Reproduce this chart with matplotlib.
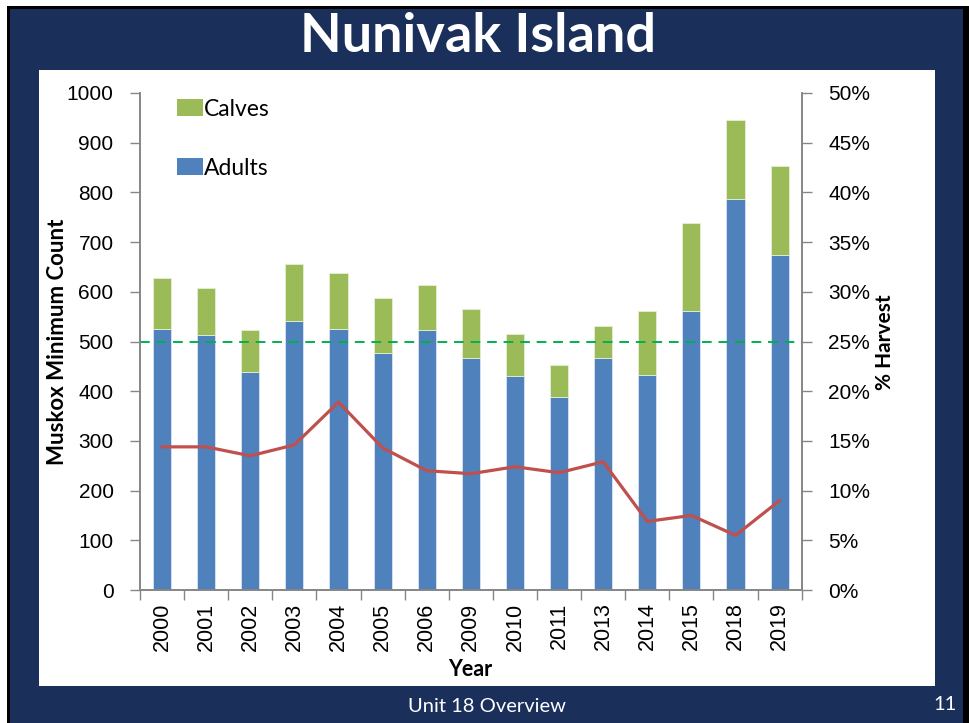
import matplotlib
matplotlib.use("Agg")
import matplotlib.pyplot as plt
import numpy as np
from matplotlib.patches import Rectangle, Patch
from matplotlib.ticker import FuncFormatter, FixedLocator

years = ["2000", "2001", "2002", "2003", "2004", "2005", "2006", "2009",
         "2010", "2011", "2013", "2014", "2015", "2018", "2019"]
totals = [627, 608, 524, 656, 637, 587, 614, 566, 516, 452, 532, 562, 739, 945, 854]
adults = [526, 514, 439, 541, 526, 477, 524, 467, 431, 388, 467, 433, 562, 787, 675]
calves = [t - a for t, a in zip(totals, adults)]
harvest_pct = [14.4, 14.4, 13.5, 14.6, 18.9, 14.3, 12.0, 11.7, 12.4, 11.8,
               12.9, 6.9, 7.5, 5.5, 9.0]
threshold = 500

W, H = 969, 723
fig = plt.figure(figsize=(W / 100, H / 100), dpi=100)
fig.patch.set_facecolor("white")

navy = "#1B2F5B"
fig.patches.append(Rectangle((7 / W, 0), 1 - 7 / W, 1 - 6 / H, transform=fig.transFigure,
                             facecolor="black", edgecolor="none", zorder=-3))
fig.patches.append(Rectangle((9.5 / W, 0), (963 - 9.5) / W, 1 - 9 / H, transform=fig.transFigure,
                             facecolor=navy, edgecolor="none", zorder=-2))
fig.patches.append(Rectangle((39 / W, 1 - 686 / H), 896 / W, 616 / H, transform=fig.transFigure,
                             facecolor="white", edgecolor="none", zorder=-1))

calibri_like = ["Lato", "DejaVu Sans"]
arial_like = ["Liberation Sans", "DejaVu Sans"]

ax = fig.add_axes([140 / W, 1 - 590 / H, (801.7 - 140) / W, (590 - 93) / H])
ax.set_facecolor("white")
x = np.arange(len(years))
bw = 0.41
blue = "#4F81BD"
green = "#9BBB59"
ax.bar(x, adults, bw, color=blue, edgecolor="#dbe5f1", linewidth=0.6, zorder=2)
ax.bar(x, calves, bw, bottom=adults, color=green, edgecolor="#e6eed5", linewidth=0.6, zorder=2)
ax.axhline(threshold, color="#00B050", linestyle=(0, (5, 3.5)), linewidth=1.4, zorder=3)

ax.set_xlim(-0.5, len(years) - 0.5)
ax.set_ylim(0, 1000)
ax.set_yticks(np.arange(0, 1001, 100))
ax.set_xticks(x)
ax.set_xticklabels(years, rotation=90, fontsize=15.5, family=arial_like)
ax.xaxis.set_minor_locator(FixedLocator(np.arange(-0.5, len(years), 1)))
ax.tick_params(axis="x", which="major", length=0, pad=9)
ax.tick_params(axis="x", which="minor", length=7, color="#868686", width=1)
ax.tick_params(axis="y", length=7, color="#868686", width=1, labelsize=15, pad=12)
for lab in ax.get_yticklabels():
    lab.set_family(arial_like)

ax.spines["top"].set_visible(False)
for s in ["left", "bottom", "right"]:
    ax.spines[s].set_color("#868686")
    ax.spines[s].set_linewidth(1.2)

ax2 = ax.twinx()
ax2.plot(x, harvest_pct, color="#C0504D", linewidth=2.3, zorder=4)
ax2.set_ylim(0, 50)
ax2.set_yticks(np.arange(0, 51, 5))
ax2.yaxis.set_major_formatter(FuncFormatter(lambda v, p: f"{int(v)}%"))
ax2.tick_params(axis="y", length=7, color="#868686", width=1, labelsize=15, pad=12)
for lab in ax2.get_yticklabels():
    lab.set_family(arial_like)
ax2.spines["top"].set_visible(False)
for s in ["left", "bottom", "right"]:
    ax2.spines[s].set_color("#868686")
    ax2.spines[s].set_linewidth(1.2)

handles = [Patch(facecolor=green, edgecolor="none"), Patch(facecolor=blue, edgecolor="none")]
leg = ax.legend(handles, ["Calves", "Adults"], loc="upper left", bbox_to_anchor=(0.024, 1.03),
                frameon=False, labelspacing=1.65, handlelength=1.15, handleheight=0.75,
                handletextpad=0.05, prop={"family": calibri_like, "size": 16.5})

fig.text(58 / W, 1 - 342 / H, "Muskox Minimum Count", rotation=90, ha="center", va="center",
         fontsize=16, fontweight="bold", family=calibri_like)
fig.text(885 / W, 1 - 342 / H, "% Harvest", rotation=90, ha="center", va="center",
         fontsize=15, fontweight="bold", family=calibri_like)
fig.text(470 / W, 1 - 669 / H, "Year", ha="center", va="center",
         fontsize=15.5, fontweight="bold", family=calibri_like)

fig.text(478 / W, 1 - 37 / H, "Nunivak Island", ha="center", va="center", color="white",
         fontsize=39, fontweight="bold", family=calibri_like)
fig.text(487 / W, 1 - 707 / H, "Unit 18 Overview", ha="center", va="center", color="white",
         fontsize=14.5, family=calibri_like)
fig.text(945 / W, 1 - 705 / H, "11", ha="center", va="center", color="white",
         fontsize=14.5, family=calibri_like)

fig.savefig("out.png", dpi=100, facecolor=fig.get_facecolor())
